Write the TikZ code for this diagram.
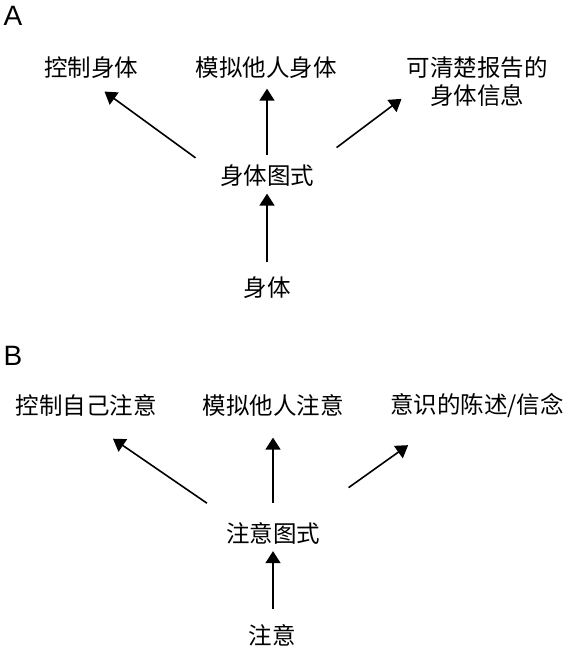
\documentclass[tikz,border=0pt]{standalone}
\usepackage{fontspec}
\setmainfont{Liberation Sans}
\newfontfamily\cjk{Noto Sans CJK SC}
\usetikzlibrary{arrows.meta}
\begin{document}
\begin{tikzpicture}[x=1pt,y=-1pt,
  lbl/.style={inner sep=0pt,font=\cjk\fontsize{23.5}{28}\selectfont,align=center},
  panel/.style={inner sep=0pt,font=\fontsize{28}{32}\selectfont},
  arr/.style={line width=1.6pt,-{Triangle[length=12pt,width=15pt]}}]
\useasboundingbox (0,0) rectangle (566,652);
\node[panel] (panA) at (13,16) {A};
\node[lbl] (ctrlA) at (91,67.5) {控制身体};
\node[lbl] (simA) at (266,67.5) {模拟他人身体};
\node[lbl] (reportA) at (477,81.5) {可清楚报告的\\身体信息};
\node[lbl] (schemaA) at (267,175.5) {身体图式};
\node[lbl] (bodyA) at (267,288) {身体};
\draw[arr,shorten <=30pt,shorten >=22pt] (schemaA.west) -- (ctrlA.249);
\draw[arr,shorten <=9pt,shorten >=10pt] (schemaA.north) -- (schemaA.north |- simA.south);
\draw[arr,shorten <=28pt,shorten >=6pt] (schemaA.north east) -- (reportA.191);
\draw[arr,shorten <=15pt,shorten >=7pt] (bodyA.north) -- (schemaA.south);
\node[panel] (panB) at (13,356) {B};
\node[lbl] (ctrlB) at (86,405.5) {控制自己注意};
\node[lbl] (simB) at (273,405.5) {模拟他人注意};
\node[lbl] (beliefB) at (477,405.5) {意识的陈述/信念};
\node[lbl] (schemaB) at (273,533) {注意图式};
\node[lbl] (attB) at (272,635) {注意};
\draw[arr,shorten <=33pt,shorten >=39pt] (schemaB.164) -- (ctrlB.245);
\draw[arr,shorten <=19pt,shorten >=21pt] (schemaB.north) -- (simB.south);
\draw[arr,shorten <=59pt,shorten >=47pt] (schemaB.22) -- (beliefB.202);
\draw[arr,shorten <=15pt,shorten >=7pt] (schemaB.south |- attB.north) -- (schemaB.south);
\end{tikzpicture}
\end{document}
